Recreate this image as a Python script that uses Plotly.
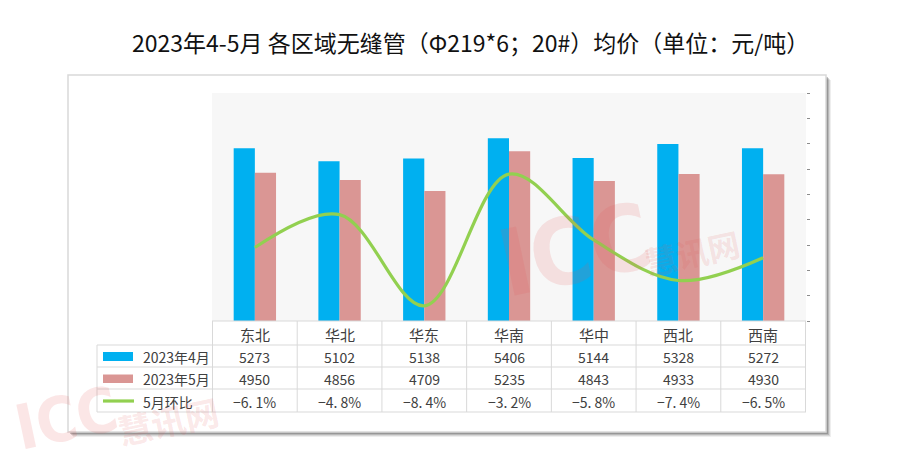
import plotly.graph_objects as go

# ---- data ----
categories = ["东北", "华北", "华东", "华南", "华中", "西北", "西南"]
april = [5273, 5102, 5138, 5406, 5144, 5328, 5272]
may = [4950, 4856, 4709, 5235, 4843, 4933, 4930]
mom_pct = [-6.1, -4.8, -8.4, -3.2, -5.8, -7.4, -6.5]
series_names = ["2023年4月", "2023年5月", "5月环比"]
title_text = "2023年4-5月 各区域无缝管（Φ219*6；20#）均价（单位：元/吨）"

W, H = 900, 468
BLUE, PINK, GREEN = "#00B0F0", "#DA9694", "#92D050"
GRID = "#d9d9d9"
TXT = "#404040"
FONT = "Noto Sans CJK SC"


def px(x):
    return x / W


def py(y):
    return 1 - y / H


PLOT_L, PLOT_R, PLOT_T, PLOT_B = 212, 806, 93, 321
ROWS = [321, 345, 367, 389, 412]
LEG_L = 97

fig = go.Figure()
fig.add_trace(go.Bar(x=categories, y=april, name=series_names[0], marker_color=BLUE, marker_line_width=0))
fig.add_trace(go.Bar(x=categories, y=may, name=series_names[1], marker_color=PINK, marker_line_width=0))
fig.add_trace(go.Scatter(x=categories, y=[v / 100 for v in mom_pct], name=series_names[2], yaxis="y2",
                         mode="lines", line=dict(color=GREEN, width=3.2, shape="spline", smoothing=1.0)))

shapes = []
# shadow
for off, op in [(5, 0.10), (4, 0.15), (3, 0.25), (2, 0.35)]:
    shapes.append(dict(type="rect", xref="paper", yref="paper", layer="below",
                       x0=px(68 + off), x1=px(826 + off), y0=py(432 + off), y1=py(75 + off),
                       fillcolor=f"rgba(90,90,90,{op})", line_width=0))
# box
shapes.append(dict(type="rect", xref="paper", yref="paper", layer="below",
                   x0=px(68), x1=px(826), y0=py(432), y1=py(75),
                   fillcolor="white", line=dict(color=GRID, width=1.5)))
# plot area bg
shapes.append(dict(type="rect", xref="paper", yref="paper", layer="below",
                   x0=px(PLOT_L), x1=px(PLOT_R), y0=py(PLOT_B), y1=py(PLOT_T),
                   fillcolor="#f7f7f7", line_width=0))
# table horizontal lines
for i, r in enumerate(ROWS):
    x0 = PLOT_L if i == 0 else LEG_L
    shapes.append(dict(type="line", xref="paper", yref="paper", x0=px(x0), x1=px(PLOT_R),
                       y0=py(r), y1=py(r), line=dict(color=GRID, width=1)))
# table vertical lines (category boundaries)
for i in range(len(categories) + 1):
    shapes.append(dict(type="line", xref="x", yref="paper", x0=i - 0.5, x1=i - 0.5,
                       y0=py(ROWS[0]), y1=py(ROWS[-1]), line=dict(color=GRID, width=1)))
shapes.append(dict(type="line", xref="paper", yref="paper", x0=px(LEG_L), x1=px(LEG_L),
                   y0=py(ROWS[1]), y1=py(ROWS[-1]), line=dict(color=GRID, width=1)))
# legend keys
shapes.append(dict(type="rect", xref="paper", yref="paper", x0=px(103), x1=px(133),
                   y0=py(361), y1=py(352), fillcolor=BLUE, line_width=0))
shapes.append(dict(type="rect", xref="paper", yref="paper", x0=px(103), x1=px(133),
                   y0=py(383), y1=py(374.5), fillcolor=PINK, line_width=0))
shapes.append(dict(type="line", xref="paper", yref="paper", x0=px(103), x1=px(134),
                   y0=py(401), y1=py(401), line=dict(color=GREEN, width=3.2)))

annotations = []
annotations.append(dict(text=title_text, x=px(470), y=py(42), xref="paper", yref="paper",
                        showarrow=False, font=dict(family=FONT, size=23, color="#111111"),
                        xanchor="center", yanchor="middle"))
row_centers = [(ROWS[k] + ROWS[k + 1]) / 2 + 1 for k in range(4)]
for i, c in enumerate(categories):
    annotations.append(dict(text=c, x=c, xref="x", y=py(row_centers[0]), yref="paper",
                            yanchor="middle", showarrow=False, font=dict(family=FONT, size=15, color=TXT)))
    annotations.append(dict(text=str(april[i]), x=c, xref="x", y=py(row_centers[1]), yref="paper",
                            yanchor="middle", showarrow=False, font=dict(family=FONT, size=14, color=TXT)))
    annotations.append(dict(text=str(may[i]), x=c, xref="x", y=py(row_centers[2]), yref="paper",
                            yanchor="middle", showarrow=False, font=dict(family=FONT, size=14, color=TXT)))
    annotations.append(dict(text=f"{mom_pct[i]:.1f}%".replace("-", "−").replace(".", ". "),
                            x=c, xref="x", y=py(row_centers[3]), yref="paper", yanchor="middle",
                            showarrow=False, font=dict(family=FONT, size=14, color=TXT)))
for k, name in enumerate(series_names):
    annotations.append(dict(text=name, x=px(141), y=py(row_centers[k + 1]), xref="paper", yref="paper",
                            xanchor="left", yanchor="middle", showarrow=False,
                            font=dict(family=FONT, size=14, color=TXT)))

# watermarks
WM = "rgba(225,90,90,0.15)"
for (wx, wy, s1, gx, gy, s2) in [(575, 250, 92, 692, 252, 32), (66, 418, 62, 168, 420, 34)]:
    annotations.append(dict(text="<b>ICC</b>", x=px(wx), y=py(wy), xref="paper", yref="paper",
                            xanchor="center", yanchor="middle", showarrow=False, textangle=-12,
                            font=dict(family="DejaVu Sans Condensed, DejaVu Sans", size=s1, color=WM)))
    annotations.append(dict(text="<b>慧讯网</b>", x=px(gx), y=py(gy), xref="paper",
                            yref="paper", xanchor="center", yanchor="middle", showarrow=False,
                            textangle=-12, font=dict(family=FONT, size=s2, color=WM)))

fig.update_layout(
    width=W, height=H, margin=dict(l=0, r=0, t=0, b=0),
    paper_bgcolor="white", plot_bgcolor="rgba(0,0,0,0)",
    showlegend=False, barmode="group", bargap=0.5, bargroupgap=0,
    xaxis=dict(domain=[px(PLOT_L), px(PLOT_R)], showticklabels=False, ticks="", showgrid=False,
               zeroline=False, showline=False),
    yaxis=dict(domain=[py(PLOT_B), py(PLOT_T)], range=[3000, 6000], visible=False),
    yaxis2=dict(overlaying="y", side="right", anchor="x", range=[-0.09, 0], dtick=0.01, tick0=0,
                showticklabels=False, ticks="outside", ticklen=3, tickcolor="#8c8c8c", tickwidth=1,
                showgrid=False, zeroline=False, showline=False),
    shapes=shapes, annotations=annotations,
)

fig.write_html("out.html")
